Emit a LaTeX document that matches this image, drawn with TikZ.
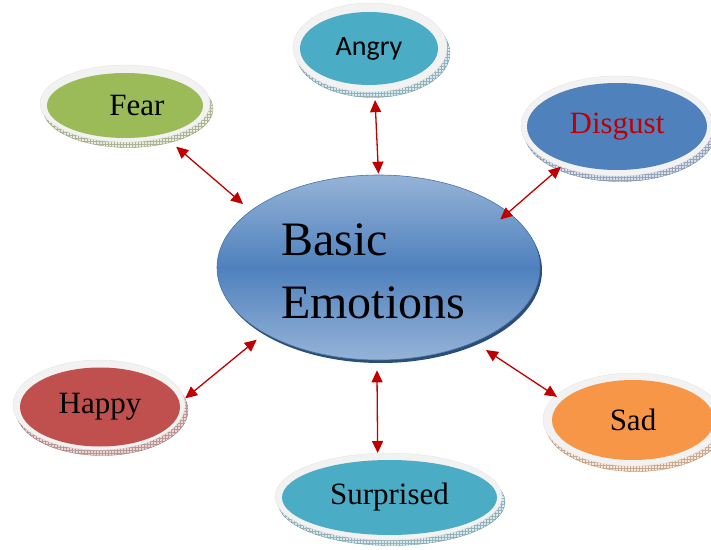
\documentclass[tikz,border=0pt]{standalone}
\usepackage{fontspec}
\setmainfont{Liberation Serif}
\newfontfamily\calibrifont{Carlito}
\usetikzlibrary{arrows.meta,patterns,shapes.geometric}
\definecolor{arrowred}{HTML}{C00000}
\definecolor{ringgray}{HTML}{F2F2F2}
\definecolor{cteal}{HTML}{4BACC6}
\definecolor{cgreen}{HTML}{9BBB59}
\definecolor{cblue}{HTML}{4F81BD}
\definecolor{cred}{HTML}{C0504D}
\definecolor{corange}{HTML}{F79646}
\definecolor{clight}{HTML}{95B3D7}
\definecolor{cdark}{HTML}{2C4D75}
\tikzset{
  ringnode/.style={ellipse, fill=ringgray, draw=black!10, line width=0.4pt, inner sep=0pt},
  innernode/.style={ellipse, inner sep=0pt, fill=#1, font=\fontsize{31}{36}\selectfont},
  band/.style={ellipse, inner sep=0pt, preaction={fill=#1!25!white}, pattern=grid, pattern color=#1!35!gray!70, draw=#1!50!gray, line width=0.3pt},
  arr/.style={draw=arrowred, line width=1.3pt, {Triangle[length=12pt,width=11pt]}-{Triangle[length=12pt,width=11pt]}}
}
\begin{document}
\begin{tikzpicture}[x=1pt,y=1pt]
\useasboundingbox (0,0) rectangle (711,549);
\clip (0,0) rectangle (711,549);
% shadow bands
\node[band=cteal, minimum width=154pt, minimum height=89pt] (angrysh) at (373,496) {};
\node[band=cgreen, minimum width=170pt, minimum height=77pt] (fearsh) at (128,440) {};
\node[band=cblue, minimum width=192pt, minimum height=100pt] (disgustsh) at (620,417.5) {};
\node[band=cred, minimum width=172pt, minimum height=90pt] (happysh) at (102,138.5) {};
\node[band=corange, minimum width=180pt, minimum height=93pt] (sadsh) at (636,124) {};
\node[band=cteal, minimum width=227pt, minimum height=87pt] (surprisedsh) at (391.5,47) {};
% rings
\node[ringnode, minimum width=154pt, minimum height=89pt] (angry) at (370,501.5) {};
\node[ringnode, minimum width=170pt, minimum height=77pt] (fear) at (125,445.5) {};
\node[ringnode, minimum width=192pt, minimum height=100pt] (disgust) at (617,423) {};
\node[ringnode, minimum width=172pt, minimum height=90pt] (happy) at (99,144) {};
\node[ringnode, minimum width=180pt, minimum height=93pt] (sad) at (633,129.5) {};
\node[ringnode, minimum width=227pt, minimum height=87pt] (surprised) at (388.5,52.5) {};
% inner coloured ellipses with labels
\node[innernode=cteal, minimum width=138pt, minimum height=73pt, font=\calibrifont\fontsize{28}{32}\selectfont] (angryin) at (369,500.5) {Angry};
\node[innernode=cgreen, minimum width=156pt, minimum height=65pt] (fearin) at (125,443.5) {\hspace*{24pt}Fear};
\node[innernode=cblue, minimum width=180pt, minimum height=87pt, text=arrowred] (disgustin) at (617,422.5) {Disgust};
\node[innernode=cred, minimum width=160pt, minimum height=79pt] (happyin) at (100,142) {Happy};
\node[innernode=corange, minimum width=162pt, minimum height=80pt] (sadin) at (633,129) {Sad};
\node[innernode=cteal, minimum width=215pt, minimum height=75pt] (surprisedin) at (389.5,51.5) {Surprised};
% central ellipse
\node[ellipse, inner sep=0pt, fill=cdark, minimum width=323pt, minimum height=185pt] (basicsh) at (380.5,278.5) {};
\node[ellipse, inner sep=0pt, top color=clight, bottom color=clight, middle color=cblue, draw=cblue!90!black, line width=0.6pt, minimum width=323pt, minimum height=185pt] (basic) at (378.5,281.5) {};
\node[align=left, inner sep=0pt, font=\fontsize{48}{63}\selectfont] (basictext) at (373,278) {Basic\\Emotions};
% connectors
\draw[arr, shorten <=10pt, shorten >=14pt] (basic.156.8) -- (fear.-40.5);
\draw[arr, shorten <=1pt, shorten >=8pt] (basic.90) -- (angry.-84.6);
\draw[arr, shorten <=-11pt, shorten >=0pt] (basic.23.4) -- (disgust.-144.9);
\draw[arr, shorten <=10pt, shorten >=1pt] (basic.210.3) -- (happy.4.65);
\draw[arr, shorten <=10pt, shorten >=0pt] (basic.-91) -- (surprised.104.8);
\draw[arr, shorten <=14pt, shorten >=-2pt] (basic.-38.5) -- (sad.163.2);
\end{tikzpicture}
\end{document}
